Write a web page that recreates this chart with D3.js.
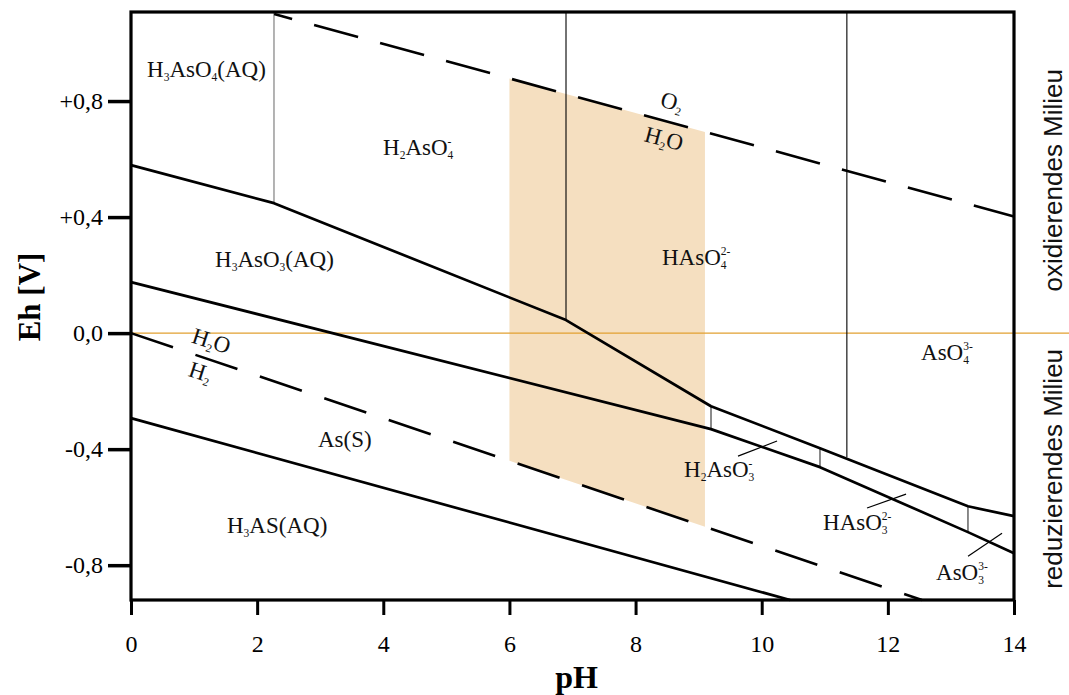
<!DOCTYPE html>
<html>
<head>
<meta charset="utf-8">
<script src="https://cdn.jsdelivr.net/npm/d3@7"></script>
<style>
  html, body { margin: 0; padding: 0; background: #fff; }
  svg { display: block; }
</style>
</head>
<body>
<script>
// ---------------- data ----------------
const xTicks = [0, 2, 4, 6, 8, 10, 12, 14];
const yTicks = [0.8, 0.4, 0, -0.4, -0.8];
const yTickLabels = ["+0,8", "+0,4", "0,0", "-0,4", "-0,8"];

// stability field boundaries [pH, Eh]
const boundaryUpper = [[0, 0.579], [2.267, 0.448], [6.897, 0.045], [9.196, -0.252], [10.924, -0.397], [13.27, -0.597], [14, -0.631]];
const boundaryMiddle = [[0, 0.176], [9.196, -0.331], [10.924, -0.462], [13.27, -0.686], [14, -0.759]];
const boundaryLower = [[0, -0.293], [10.45, -0.92]];
// water stability limits
const waterUpper = [[2.27, 1.10], [14, 0.402]];
const waterLower = [[0, 0], [12.54, -0.92]];
// vertical boundaries [pH, Eh top, Eh bottom]
const verticalsLong = [[6.897, 1.107, 0.045], [11.35, 1.107, -0.428]];
const verticalsGrey = [[2.267, 1.107, 0.448]];
const verticalsShort = [[9.196, -0.252, -0.331], [10.924, -0.397, -0.462], [13.27, -0.597, -0.686]];
// leader strokes [[pH,Eh],[pH,Eh]]
const leaders = [
  [[9.624, -0.424], [10.243, -0.372]],
  [[11.67, -0.603], [12.288, -0.555]],
  [[13.271, -0.769], [13.81, -0.690]]
];
// natural-water window (pH range)
const shadePH = [6, 9.1];

// species labels: text, pH, Eh (start of baseline)
const speciesText = ["H_3AsO_4(AQ)", "H_2AsO_4^-", "HAsO_4^2-", "H_3AsO_3(AQ)", "AsO_4^3-", "As(S)", "H_3AS(AQ)", "H_2AsO_3^-", "HAsO_3^2-", "AsO_3^3-"];
const speciesPH = [0.254, 3.996, 8.419, 1.332, 12.526, 2.965, 1.522, 8.768, 10.972, 12.764];
const speciesEh = [0.883, 0.614, 0.234, 0.228, -0.093, -0.393, -0.690, -0.497, -0.679, -0.852];
// water-line labels (centered, rotated)
const waterText = ["O_2", "H_2O", "H_2O", "H_2"];
const waterPH = [8.546, 8.419, 1.237, 1.062];
const waterEh = [0.772, 0.645, -0.052, -0.159];
const waterAngle = [15, 15, 18, 18];

const xTitle = "pH";
const yTitle = "Eh [V]";
const sideTop = "oxidierendes Milieu";
const sideBottom = "reduzierendes Milieu";

// ---------------- layout ----------------
const W = 1069, H = 695;
const L = 131, R = 1014, T = 12, B = 600;
const x = d3.scaleLinear().domain([0, 14]).range([L, R]);
const y = d3.scaleLinear().domain([-0.92, 1.107]).range([B, T]);

const serif = "'Liberation Serif', 'Times New Roman', serif";
const sans = "'Liberation Sans', Arial, sans-serif";

const svg = d3.select("body").append("svg").attr("width", W).attr("height", H);
svg.append("rect").attr("width", W).attr("height", H).attr("fill", "#fff");

const line = d3.line().x(d => x(d[0])).y(d => y(d[1]));

// shaded window
const area = d3.area()
  .x(d => x(d))
  .y0(d => y(waterLower[0][1] + (waterLower[1][1] - waterLower[0][1]) * (d - waterLower[0][0]) / (waterLower[1][0] - waterLower[0][0])))
  .y1(d => y(waterUpper[0][1] + (waterUpper[1][1] - waterUpper[0][1]) * (d - waterUpper[0][0]) / (waterUpper[1][0] - waterUpper[0][0])));
svg.append("path").datum(shadePH).attr("d", area).attr("fill", "#f5dfc0");

// orange Eh = 0 line
svg.append("line").attr("x1", x(0)).attr("x2", W).attr("y1", y(0)).attr("y2", y(0))
  .attr("stroke", "#e2a030").attr("stroke-width", 1.3);

// vertical boundaries
svg.selectAll(".vg").data(verticalsGrey).join("line")
  .attr("x1", d => x(d[0])).attr("x2", d => x(d[0])).attr("y1", d => y(d[1])).attr("y2", d => y(d[2]))
  .attr("stroke", "#808080").attr("stroke-width", 1.2);
svg.selectAll(".vl").data(verticalsLong).join("line")
  .attr("x1", d => x(d[0])).attr("x2", d => x(d[0])).attr("y1", d => y(d[1])).attr("y2", d => y(d[2]))
  .attr("stroke", "#000").attr("stroke-width", 1.1);
svg.selectAll(".vs").data(verticalsShort).join("line")
  .attr("x1", d => x(d[0])).attr("x2", d => x(d[0])).attr("y1", d => y(d[1])).attr("y2", d => y(d[2]))
  .attr("stroke", "#6e6e6e").attr("stroke-width", 1.6);

// water lines (dashed)
svg.append("path").datum(waterUpper).attr("d", line).attr("fill", "none")
  .attr("stroke", "#000").attr("stroke-width", 2.6).attr("stroke-dasharray", "45.6,22.8").attr("stroke-dashoffset", 27);
svg.append("path").datum(waterLower).attr("d", line).attr("fill", "none")
  .attr("stroke", "#000").attr("stroke-width", 2.6).attr("stroke-dasharray", "44.3,23.7");

// boundaries
[boundaryUpper, boundaryMiddle, boundaryLower].forEach(b => {
  svg.append("path").datum(b).attr("d", line).attr("fill", "none")
    .attr("stroke", "#000").attr("stroke-width", 2.7).attr("stroke-linejoin", "round");
});

// leaders
svg.selectAll(".ld").data(leaders).join("line")
  .attr("x1", d => x(d[0][0])).attr("y1", d => y(d[0][1]))
  .attr("x2", d => x(d[1][0])).attr("y2", d => y(d[1][1]))
  .attr("stroke", "#000").attr("stroke-width", 1.2);

// frame
svg.append("rect").attr("x", L).attr("y", T).attr("width", R - L).attr("height", B - T)
  .attr("fill", "none").attr("stroke", "#000").attr("stroke-width", 3.2);

// axes (ticks + labels)
const xAxis = d3.axisBottom(x).tickValues(xTicks).tickSize(15).tickSizeOuter(0).tickPadding(22)
  .tickFormat(d3.format("d"));
const gx = svg.append("g").attr("transform", `translate(0,${B})`).call(xAxis);
gx.select(".domain").remove();
gx.selectAll(".tick line").attr("stroke", "#000").attr("stroke-width", 3);
gx.selectAll(".tick text").attr("font-family", serif).attr("font-size", 24).attr("fill", "#000")
  .attr("dy", null).attr("y", 52);

const yAxis = d3.axisLeft(y).tickValues(yTicks).tickSize(23).tickSizeOuter(0).tickPadding(5)
  .tickFormat((d, i) => yTickLabels[i]);
const gy = svg.append("g").attr("transform", `translate(${L},0)`).call(yAxis);
gy.select(".domain").remove();
gy.selectAll(".tick line").attr("stroke", "#000").attr("stroke-width", 3.5);
gy.selectAll(".tick text").attr("font-family", serif).attr("font-size", 24).attr("fill", "#000")
  .attr("dy", "0.32em");

// chemical formula writer
function writeFormula(textSel, str, base, small) {
  const tokens = str.match(/(_[^_^]|\^[^_^]+|[^_^]+)/g);
  let shift = 0, lastSubLen = 0;
  tokens.forEach(tok => {
    if (tok[0] === "_") {
      const s = tok.slice(1);
      textSel.append("tspan").attr("font-size", small).attr("dy", 4 - shift).text(s);
      shift = 4; lastSubLen = s.length;
    } else if (tok[0] === "^") {
      const s = tok.slice(1);
      textSel.append("tspan").attr("font-size", small)
        .attr("dx", -lastSubLen * small * 0.5).attr("dy", -10 - shift).text(s);
      shift = -10;
    } else {
      textSel.append("tspan").attr("font-size", base).attr("dy", -shift).text(tok);
      shift = 0;
    }
  });
}

speciesText.forEach((t, i) => {
  const te = svg.append("text").attr("x", x(speciesPH[i])).attr("y", y(speciesEh[i]))
    .attr("font-family", serif).attr("font-size", 23).attr("fill", "#111");
  writeFormula(te, t, 23, 11.5);
});

waterText.forEach((t, i) => {
  const px = x(waterPH[i]), py = y(waterEh[i]);
  const te = svg.append("text").attr("x", px).attr("y", py)
    .attr("text-anchor", "middle")
    .attr("transform", `rotate(${waterAngle[i]},${px},${py})`)
    .attr("font-family", serif).attr("font-size", 23).attr("fill", "#111");
  writeFormula(te, t, 23, 11.5);
});

// axis titles
svg.append("text").attr("x", (L + R) / 2 + 4).attr("y", 688).attr("text-anchor", "middle")
  .attr("font-family", serif).attr("font-weight", "bold").attr("font-size", 32).text(xTitle);
svg.append("text").attr("transform", "translate(40,297) rotate(-90)").attr("text-anchor", "middle")
  .attr("font-family", serif).attr("font-weight", "bold").attr("font-size", 31).text(yTitle);

// side captions
svg.append("text").attr("transform", `translate(1062,${y(0.527)}) rotate(-90)`).attr("text-anchor", "middle")
  .attr("font-family", sans).attr("font-size", 26).attr("fill", "#111").text(sideTop);
svg.append("text").attr("transform", `translate(1062,${y(-0.468)}) rotate(-90)`).attr("text-anchor", "middle")
  .attr("font-family", sans).attr("font-size", 26).attr("fill", "#111").text(sideBottom);
</script>
</body>
</html>
